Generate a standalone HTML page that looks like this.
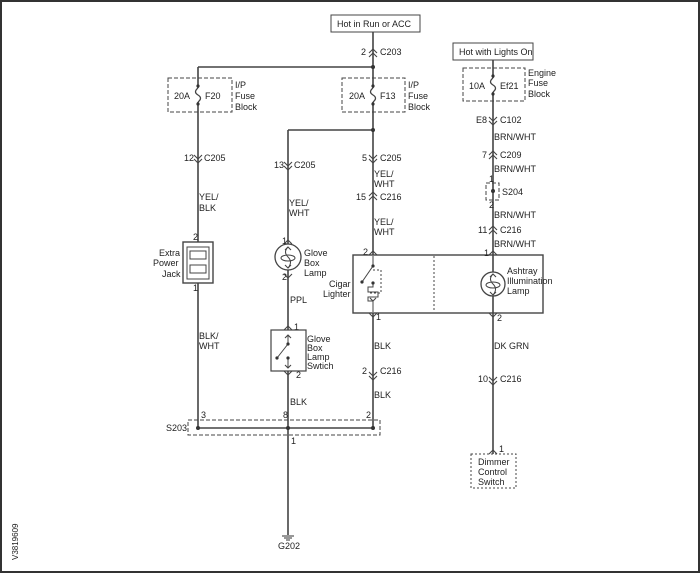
<!DOCTYPE html>
<html><head><style>
html,body{margin:0;padding:0;background:#fff}
svg{display:block}
text{font-family:"Liberation Sans",Arial,sans-serif;font-size:9px;fill:#222}
</style></head><body>
<svg width="700" height="573" viewBox="0 0 700 573" xmlns="http://www.w3.org/2000/svg">
<rect x="1" y="1" width="698" height="571" fill="#fff" stroke="#333" stroke-width="2"/>
<g stroke="#444" stroke-width="1.6" fill="none">
<!-- wires -->
<line x1="373" y1="32" x2="373" y2="255"/>
<line x1="198" y1="67" x2="373" y2="67"/>
<line x1="198" y1="67" x2="198" y2="242"/>
<line x1="198" y1="283" x2="198" y2="428"/>
<line x1="288" y1="130" x2="373" y2="130"/>
<line x1="288" y1="130" x2="288" y2="244"/>
<line x1="288" y1="270" x2="288" y2="330"/>
<line x1="288" y1="371" x2="288" y2="535"/>
<line x1="373" y1="313" x2="373" y2="428"/>
<line x1="198" y1="428" x2="373" y2="428"/>
<line x1="493" y1="60" x2="493" y2="272"/>
<line x1="493" y1="296" x2="493" y2="454"/>
</g>
<g fill="#333">
<circle cx="373" cy="67" r="2"/><circle cx="373" cy="130" r="2"/>
<circle cx="198" cy="428" r="2"/><circle cx="288" cy="428" r="2"/><circle cx="373" cy="428" r="2"/>
<circle cx="493" cy="191" r="2"/>
<circle cx="198" cy="86" r="1.6"/><circle cx="198" cy="104" r="1.6"/>
<circle cx="373" cy="86" r="1.6"/><circle cx="373" cy="104" r="1.6"/>
<circle cx="493" cy="76" r="1.6"/><circle cx="493" cy="94" r="1.6"/>
</g>
<!-- fuse squiggles (white gap) -->
<g stroke="#444" stroke-width="1.3" fill="#fff">
<rect x="194" y="88" width="8" height="14" stroke="none"/>
<rect x="369" y="88" width="8" height="14" stroke="none"/>
<rect x="489" y="78" width="8" height="14" stroke="none"/>
<path d="M198 88 Q193 92 198 95 Q203 98 198 102" fill="none"/>
<path d="M373 88 Q368 92 373 95 Q378 98 373 102" fill="none"/>
<path d="M493 78 Q488 82 493 85 Q498 88 493 92" fill="none"/>
</g>
<!-- boxes -->
<g stroke="#444" stroke-width="1" fill="none">
<rect x="331" y="15" width="89" height="17" fill="#fff"/>
<rect x="453" y="43" width="80" height="17" fill="#fff"/>
<g stroke-dasharray="4,2">
<rect x="168" y="78" width="64" height="34"/>
<rect x="342" y="78" width="63" height="34"/>
<rect x="463" y="68" width="62" height="33"/>
<rect x="486" y="183" width="13" height="17"/>
<rect x="188" y="420" width="192" height="15"/>
<rect x="471" y="454" width="45" height="34" stroke-dasharray="2,2"/>
</g>
<rect x="183" y="242" width="30" height="41" stroke-width="1.4"/>
<rect x="187" y="247" width="22" height="32"/>
<rect x="190" y="251" width="16" height="8"/>
<rect x="190" y="265" width="16" height="8"/>
<rect x="271" y="330" width="35" height="41" stroke-width="1.2"/>
<rect x="353" y="255" width="190" height="58" stroke-width="1.4"/>
<line x1="434" y1="256" x2="434" y2="312" stroke-dasharray="2,2"/>
<circle cx="288" cy="257" r="13" stroke-width="1.3"/>
<ellipse cx="288" cy="258" rx="7" ry="3"/>
<path d="M288 247 Q283 252 288 257 Q293 262 288 268"/>
<circle cx="493" cy="284" r="12" stroke-width="1.3"/>
<ellipse cx="493" cy="285" rx="7" ry="3"/>
<path d="M493 274 Q488 279 493 284 Q498 289 493 295"/>
<!-- glove switch -->
<line x1="288" y1="335" x2="288" y2="344"/>
<line x1="288" y1="344" x2="277" y2="358"/>
<line x1="288" y1="358" x2="288" y2="368"/>
<!-- cigar -->
<line x1="373" y1="256" x2="373" y2="266"/>
<line x1="373" y1="266" x2="362" y2="282"/>
<path d="M373 270 H381 V293 H368" stroke-dasharray="2,2"/>
<path d="M373 283 V287 H368 V292 H378 V297 H368 V301 H373 V312"/>
</g>
<g fill="#333"><circle cx="288" cy="344" r="1.6"/><circle cx="277" cy="358" r="1.6"/><circle cx="288" cy="358" r="1.6"/>
<circle cx="373" cy="266" r="1.6"/><circle cx="362" cy="282" r="1.6"/><circle cx="373" cy="283" r="1.6"/></g>
<!-- connectors -->
<g stroke="#444" stroke-width="1.1" fill="none">
<path d="M369 53 L373 49 L377 53 M369 57 L373 53 L377 57"/>
<path d="M194 155 L198 159 L202 155 M194 159 L198 163 L202 159"/>
<path d="M284 162 L288 166 L292 162 M284 166 L288 170 L292 166"/>
<path d="M369 155 L373 159 L377 155 M369 159 L373 163 L377 159"/>
<path d="M369 196 L373 192 L377 196 M369 200 L373 196 L377 200"/>
<path d="M369 372 L373 376 L377 372 M369 376 L373 380 L377 376"/>
<path d="M489 117 L493 121 L497 117 M489 121 L493 125 L497 121"/>
<path d="M489 155 L493 151 L497 155 M489 159 L493 155 L497 159"/>
<path d="M489 230 L493 226 L497 230 M489 234 L493 230 L497 234"/>
<path d="M489 377 L493 381 L497 377 M489 381 L493 385 L497 381"/>
<path d="M369 255 L373 251 L377 255 M489 255 L493 251 L497 255"/>
<path d="M369 313 L373 317 L377 313 M489 313 L493 317 L497 313"/>
<path d="M284 244 L288 240 L292 244 M284 274 L288 278 L292 274"/>
<path d="M284 330 L288 326 L292 330 M284 371 L288 375 L292 371"/>
<path d="M489 454 L493 450 L497 454"/>
<path d="M285 250 L288 247 L291 250 M285 265 L288 268 L291 265"/>
<path d="M490 277 L493 274 L496 277 M490 292 L493 295 L496 292"/>
<path d="M285 338 L288 335 L291 338 M285 365 L288 368 L291 365"/>
<path d="M370 298 L373 301 L376 298"/>
</g>
<!-- ground -->
<g stroke="#444" stroke-width="1.1"><line x1="282" y1="536" x2="294" y2="536"/><line x1="284" y1="538" x2="292" y2="538"/><line x1="286" y1="540" x2="290" y2="540"/></g>
<!-- text -->
<text x="337" y="27">Hot in Run or ACC</text>
<text x="459" y="55">Hot with Lights On</text>
<text x="361" y="55">2</text><text x="380" y="55">C203</text>
<text x="174" y="99">20A</text><text x="205" y="99">F20</text>
<text x="235" y="88">I/P</text><text x="235" y="99">Fuse</text><text x="235" y="110">Block</text>
<text x="349" y="99">20A</text><text x="380" y="99">F13</text>
<text x="408" y="88">I/P</text><text x="408" y="99">Fuse</text><text x="408" y="110">Block</text>
<text x="469" y="89">10A</text><text x="500" y="89">Ef21</text>
<text x="528" y="76">Engine</text><text x="528" y="86">Fuse</text><text x="528" y="97">Block</text>
<text x="184" y="161">12</text><text x="204" y="161">C205</text>
<text x="274" y="168">13</text><text x="294" y="168">C205</text>
<text x="362" y="161">5</text><text x="380" y="161">C205</text>
<text x="374" y="177">YEL/</text><text x="374" y="187">WHT</text>
<text x="356" y="200">15</text><text x="380" y="200">C216</text>
<text x="374" y="225">YEL/</text><text x="374" y="235">WHT</text>
<text x="199" y="200">YEL/</text><text x="199" y="211">BLK</text>
<text x="289" y="206">YEL/</text><text x="289" y="216">WHT</text>
<text x="193" y="240">2</text><text x="193" y="291">1</text>
<text x="159" y="256">Extra</text><text x="153" y="266">Power</text><text x="162" y="277">Jack</text>
<text x="282" y="244">1</text><text x="282" y="280">2</text>
<text x="304" y="256">Glove</text><text x="304" y="266">Box</text><text x="304" y="276">Lamp</text>
<text x="290" y="303">PPL</text>
<text x="294" y="330">1</text><text x="296" y="378">2</text>
<text x="307" y="342">Glove</text><text x="307" y="351">Box</text><text x="307" y="360">Lamp</text><text x="307" y="369">Swtich</text>
<text x="290" y="405">BLK</text>
<text x="199" y="339">BLK/</text><text x="199" y="349">WHT</text>
<text x="201" y="418">3</text><text x="283" y="418">8</text><text x="366" y="418">2</text>
<text x="291" y="444">1</text>
<text x="166" y="431">S203</text>
<text x="278" y="549">G202</text>
<text x="363" y="255">2</text><text x="376" y="320">1</text>
<text x="329" y="287">Cigar</text><text x="323" y="297">Lighter</text>
<text x="374" y="349">BLK</text>
<text x="362" y="374">2</text><text x="380" y="374">C216</text>
<text x="374" y="398">BLK</text>
<text x="476" y="123">E8</text><text x="500" y="123">C102</text>
<text x="494" y="140">BRN/WHT</text>
<text x="482" y="158">7</text><text x="500" y="158">C209</text>
<text x="494" y="172">BRN/WHT</text>
<text x="489" y="182">1</text><text x="502" y="195">S204</text><text x="489" y="208">2</text>
<text x="494" y="218">BRN/WHT</text>
<text x="478" y="233">11</text><text x="500" y="233">C216</text>
<text x="494" y="247">BRN/WHT</text>
<text x="484" y="256">1</text><text x="497" y="321">2</text>
<text x="507" y="274">Ashtray</text><text x="507" y="284">Illumination</text><text x="507" y="294">Lamp</text>
<text x="494" y="349">DK GRN</text>
<text x="478" y="382">10</text><text x="500" y="382">C216</text>
<text x="499" y="452">1</text>
<text x="478" y="465">Dimmer</text><text x="478" y="475">Control</text><text x="478" y="485">Switch</text>
<text transform="translate(18,560) rotate(-90)" style="font-size:8px">V3819609</text>
</svg>
</body></html>
